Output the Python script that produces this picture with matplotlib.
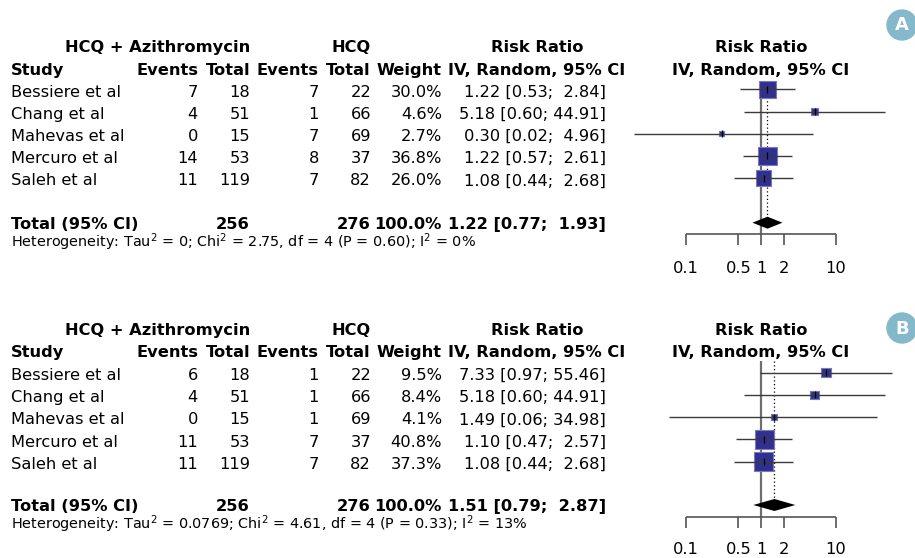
import numpy as np
import matplotlib
matplotlib.use("Agg")
import matplotlib.pyplot as plt
from matplotlib.patches import Circle

plt.rcParams['font.family'] = ['DejaVu Sans']
plt.rcParams['mathtext.fontset'] = 'dejavusans'

# --- Data (panel A and panel B)
studies = ["Bessiere et al", "Chang et al", "Mahevas et al", "Mercuro et al", "Saleh et al"]
n_azm = [18, 51, 15, 53, 119]
n_hcq = [22, 66, 69, 37, 82]

a_ev_azm = [7, 4, 0, 14, 11]
a_ev_hcq = [7, 1, 7, 8, 7]
a_weight = [30.0, 4.6, 2.7, 36.8, 26.0]
a_rr = [1.22, 5.18, 0.30, 1.22, 1.08]
a_lo = [0.53, 0.60, 0.02, 0.57, 0.44]
a_hi = [2.84, 44.91, 4.96, 2.61, 2.68]
a_pooled = [1.22, 0.77, 1.93]
a_het = r"Heterogeneity: Tau$^2$ = 0; Chi$^2$ = 2.75, df = 4 (P = 0.60); I$^2$ = 0%"

b_ev_azm = [6, 4, 0, 11, 11]
b_ev_hcq = [1, 1, 1, 7, 7]
b_weight = [9.5, 8.4, 4.1, 40.8, 37.3]
b_rr = [7.33, 5.18, 1.49, 1.10, 1.08]
b_lo = [0.97, 0.60, 0.06, 0.47, 0.44]
b_hi = [55.46, 44.91, 34.98, 2.57, 2.68]
b_pooled = [1.51, 0.79, 2.87]
b_het = r"Heterogeneity: Tau$^2$ = 0.0769; Chi$^2$ = 4.61, df = 4 (P = 0.33); I$^2$ = 13%"

total_azm = 256
total_hcq = 276
ticks = [0.1, 0.5, 1, 2, 10]

# --- Figure: one pixel-space axes for the table, one log axes for the forest
W, H = 915, 558
fig = plt.figure(figsize=(W / 100, H / 100), dpi=100)
ax = fig.add_axes([0, 0, 1, 1])
ax.set_xlim(0, W)
ax.set_ylim(H, 0)
ax.axis('off')

# forest axes: 1 sits at x=761 px, 75 px per decade
px0, px1 = 600, 915
fx = fig.add_axes([px0 / W, 0, (px1 - px0) / W, 1])
fx.set_xscale('log')
fx.set_xlim(10 ** ((px0 - 761) / 75), 10 ** ((px1 - 761) / 75))
fx.set_ylim(H, 0)
fx.axis('off')

FS = 11.7
FS_HET = 10.4
col_right = {'ev1': 198, 'n1': 250, 'ev2': 319, 'n2': 371, 'w': 442, 'ci': 606}


def ci_text(r, lo, hi):
    return f"{r:.2f} [{lo:.2f}; {hi:5.2f}]"


def draw_panel(y, ev_azm, ev_hcq, weight, rr, lo, hi, pooled, het, badge):
    # y: dict of vertical positions (pixels)
    base = 6.3  # baseline offset from row centre
    t = dict(fontsize=FS, va='baseline')
    tb = dict(fontsize=FS, va='baseline', fontweight='bold')

    ax.text(col_right['n1'], y['h1'] + base, "HCQ + Azithromycin", ha='right', **tb)
    ax.text(col_right['n2'], y['h1'] + base, "HCQ", ha='right', **tb)
    ax.text(537, y['h1'] + base, "Risk Ratio", ha='center', **tb)
    ax.text(761, y['h1'] + base, "Risk Ratio", ha='center', **tb)

    ax.text(11, y['h2'] + base, "Study", ha='left', **tb)
    ax.text(col_right['ev1'], y['h2'] + base, "Events", ha='right', **tb)
    ax.text(col_right['n1'], y['h2'] + base, "Total", ha='right', **tb)
    ax.text(col_right['ev2'], y['h2'] + base, "Events", ha='right', **tb)
    ax.text(col_right['n2'], y['h2'] + base, "Total", ha='right', **tb)
    ax.text(col_right['w'], y['h2'] + base, "Weight", ha='right', **tb)
    ax.text(537, y['h2'] + base, "IV, Random, 95% CI", ha='center', **tb)
    ax.text(761, y['h2'] + base, "IV, Random, 95% CI", ha='center', **tb)

    rows = y['r0'] + 22.2 * np.arange(len(studies))
    for i, yy in enumerate(rows):
        yb = yy + base + 1
        ax.text(11, yb, studies[i], ha='left', **t)
        ax.text(col_right['ev1'], yb, str(ev_azm[i]), ha='right', **t)
        ax.text(col_right['n1'], yb, str(n_azm[i]), ha='right', **t)
        ax.text(col_right['ev2'], yb, str(ev_hcq[i]), ha='right', **t)
        ax.text(col_right['n2'], yb, str(n_hcq[i]), ha='right', **t)
        ax.text(col_right['w'], yb, f"{weight[i]:.1f}%", ha='right', **t)
        ax.text(col_right['ci'], yb, ci_text(rr[i], lo[i], hi[i]), ha='right', **t)

    yt = y['tot'] + base
    ax.text(11, yt, "Total (95% CI)", ha='left', **tb)
    ax.text(col_right['n1'], yt, str(total_azm), ha='right', **tb)
    ax.text(col_right['n2'], yt, str(total_hcq), ha='right', **tb)
    ax.text(col_right['w'], yt, "100.0%", ha='right', **tb)
    ax.text(col_right['ci'], yt, ci_text(*pooled), ha='right', **tb)
    ax.text(11, y['tot'] + 18 + base, het, ha='left', fontsize=FS_HET, va='baseline')

    # forest plot
    fx.vlines(1, y['ref_top'], y['axis'], color='#6e6e6e', lw=1.6, zorder=1)
    fx.vlines(pooled[0], y['ref_top'], y['tot'] - 6, color='black', lw=0.9,
              linestyles=(0, (1, 2)), zorder=1)
    side_pt = 3.0 * np.sqrt(weight) * 0.72
    fx.scatter(rr, rows, s=side_pt ** 2, marker='s', facecolor='#303090',
               edgecolor='#7a7ab8', linewidths=0.8, zorder=2)
    fx.hlines(rows, lo, hi, color='#3a3a3a', lw=1.0, zorder=3)
    fx.vlines(rr, rows - 3.5, rows + 3.5, color='black', lw=0.9, zorder=3)
    est, plo, phi = pooled
    fx.fill([plo, est, phi, est], [y['tot'], y['tot'] - 6, y['tot'], y['tot'] + 6],
            color='black', lw=0, zorder=3)

    # axis
    fx.hlines(y['axis'], ticks[0], ticks[-1], color='#555555', lw=1.2, zorder=1)
    fx.vlines(ticks, y['axis'], y['axis'] + 11, color='#555555', lw=1.2, zorder=1)
    for tk in ticks:
        fx.text(tk, y['tick'] + base, f"{tk:g}", ha='center', va='baseline', fontsize=FS)

    # panel badge
    ax.add_patch(Circle((902, y['badge']), 15, color='#84b9cb', zorder=5))
    ax.text(902, y['badge'] + 0.5, badge, ha='center', va='center', color='white',
            fontsize=13, fontweight='bold', zorder=6)


draw_panel(dict(h1=46, h2=68.3, r0=89.3, tot=222.7, ref_top=81.7,
                axis=233.5, tick=267, badge=25),
           a_ev_azm, a_ev_hcq, a_weight, a_rr, a_lo, a_hi, a_pooled, a_het, "A")
draw_panel(dict(h1=328.5, h2=350.5, r0=372.7, tot=505, ref_top=361,
                axis=516.7, tick=548, badge=328),
           b_ev_azm, b_ev_hcq, b_weight, b_rr, b_lo, b_hi, b_pooled, b_het, "B")

fig.savefig("out.png", dpi=100)
